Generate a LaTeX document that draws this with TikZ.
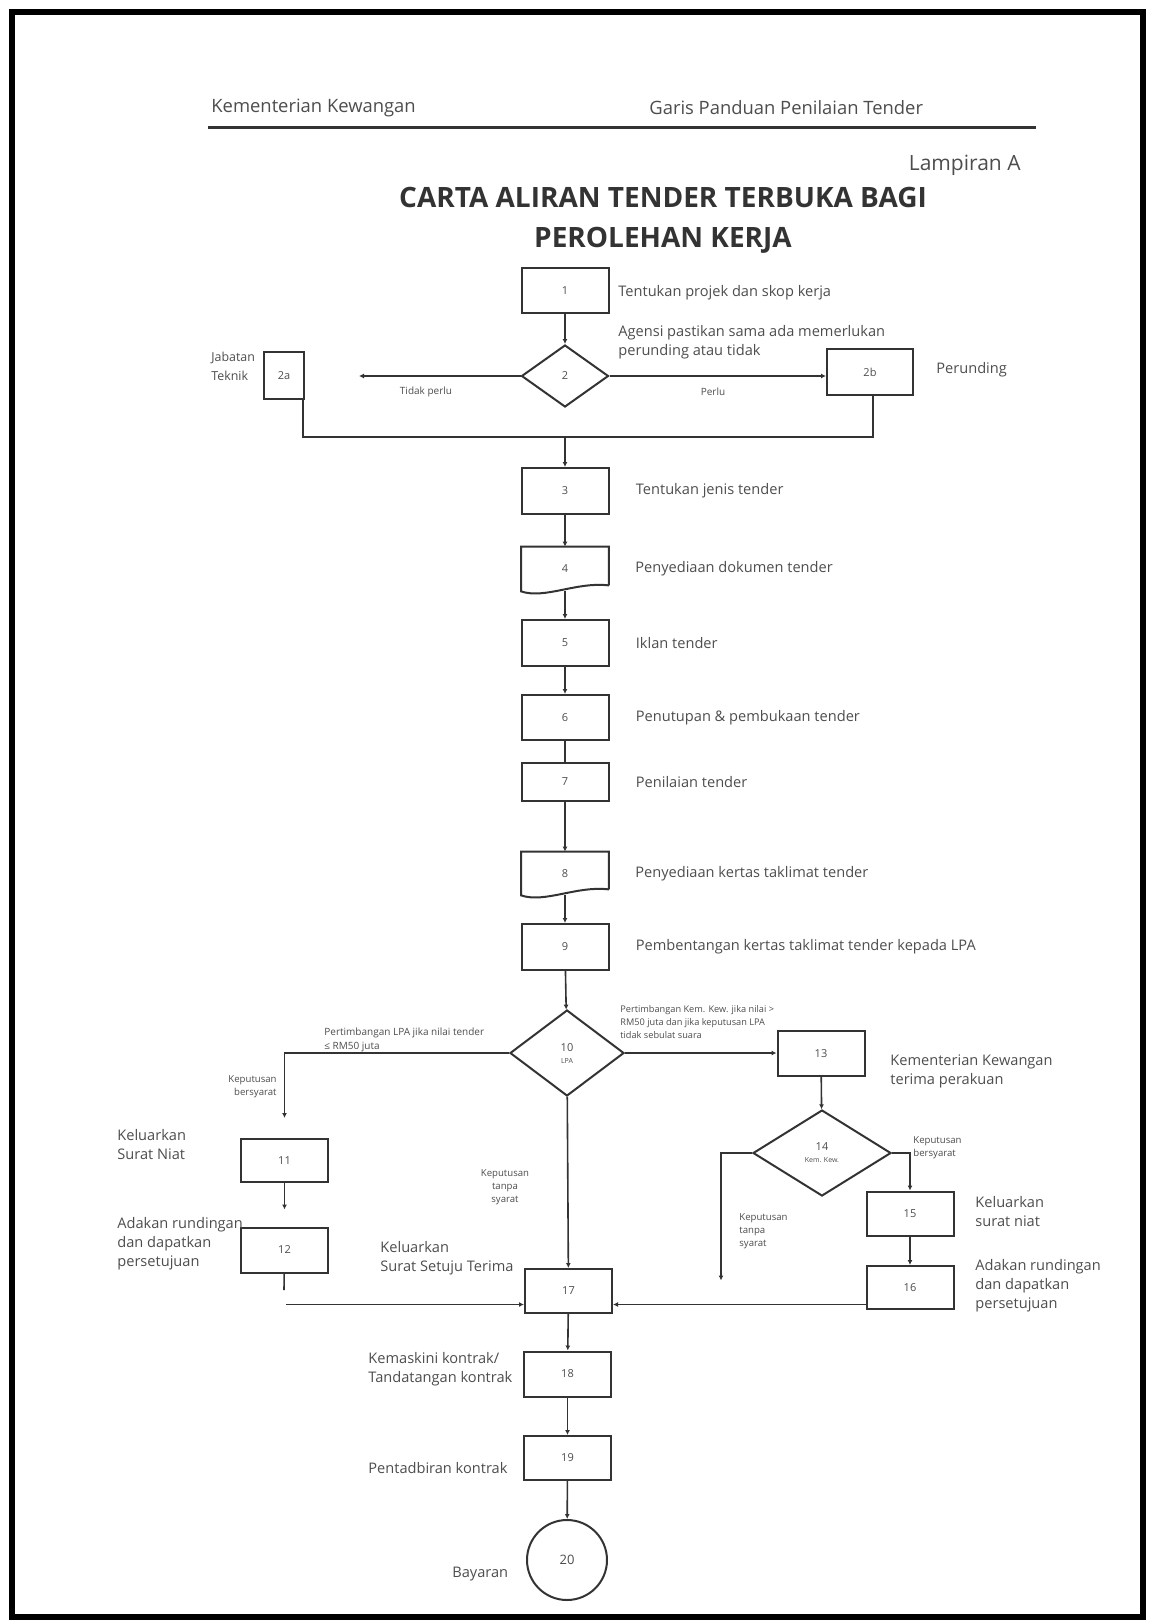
\documentclass[tikz,border=0pt]{standalone}
\usepackage{fontspec}
\setmainfont{Open Sans}
\usepackage{xcolor}
\definecolor{darkgray}{HTML}{333333}
\definecolor{gray}{HTML}{4D4D4D}
\usetikzlibrary{shapes.geometric,positioning,arrows.meta}

% bingkai dokumen dengan bawah beralun
\newcommand{\bingkaidokumen}[1]{%
  \draw[darkgray, line width=1pt] ([yshift=3pt]#1.south east) -- (#1.north east) -- (#1.north west) -- (#1.south west)
    .. controls ([xshift=12pt,yshift=-4pt]#1.south west) and ([xshift=-16pt,yshift=5pt]#1.south east) .. ([yshift=3pt]#1.south east);}

\begin{document}
\begin{tikzpicture}[x=0.5pt, y=-0.5pt, node distance=13pt,
  font=\fontsize{7.3pt}{9.5pt}\selectfont,
  proses/.style={rectangle, draw=darkgray, line width=1pt, minimum width=43.5pt, minimum height=22.5pt,
                 inner sep=0pt, text=gray, font=\fontsize{5.5pt}{6pt}\selectfont},
  dokumen/.style={rectangle, minimum width=43.5pt, minimum height=20.5pt, inner sep=0pt,
                 text=gray, font=\fontsize{5.5pt}{6pt}\selectfont},
  keputusan/.style={diamond, draw=darkgray, line width=1pt, inner sep=0pt, align=center,
                 text=gray, font=\fontsize{5.5pt}{5pt}\selectfont},
  teks/.style={align=left, text=gray, inner sep=0pt, anchor=west},
  nota/.style={align=left, text=gray, inner sep=0pt, font=\fontsize{5pt}{7pt}\selectfont},
  garis/.style={draw=darkgray, line width=0.8pt},
  panah/.style={garis, -{Latex[length=2.5pt,width=2.5pt]}}]

\useasboundingbox (0,0) rectangle (1155,1622);
\draw[line width=3pt] (12,12) rectangle (1143,1617);

% kepala halaman
\node[teks, font=\fontsize{9.2pt}{11pt}\selectfont] (kem) at (211,108) {Kementerian Kewangan};
\node[teks, font=\fontsize{9.2pt}{11pt}\selectfont] (garispanduan) at (649,108) {Garis Panduan Penilaian Tender};
\draw[darkgray, line width=1.5pt] (208,127) -- (1036,127);
\node[teks, anchor=east, font=\fontsize{10.5pt}{12pt}\selectfont] (lampiran) at (1021,165) {Lampiran A};
\node[align=center, text=darkgray, inner sep=0pt, font=\fontsize{14pt}{20pt}\bfseries] (judul) at (663,220)
  {CARTA ALIRAN TENDER TERBUKA BAGI\\PEROLEHAN KERJA};

% nod
\node[proses] (b1) at (565,290.5) {1};
\node[keputusan, minimum width=43.5pt, minimum height=31pt] (d2) at (565,376) {2};
\node[proses, minimum width=20pt, minimum height=23.5pt] (b2a) at (284,375.5) {2a};
\node[proses, minimum width=43pt, minimum height=23pt] (b2b) at (870,372) {2b};
\coordinate (tp) at (359,376);
\coordinate (gabung) at (565,437);
\node[proses, minimum height=23pt] (b3) at (565,491) {3};
\node[dokumen, minimum height=22pt] (b4) at (565,569) {4};
\node[proses, minimum height=23pt] (b5) at (565,643) {5};
\node[proses, minimum height=22.5pt] (b6) at (565,717.5) {6};
\node[proses, minimum height=19pt] (b7) at (565,782) {7};
\node[dokumen, minimum height=21.5pt] (b8) at (565,873.5) {8};
\node[proses, minimum height=23pt] (b9) at (565,947) {9};
\node[keputusan, minimum width=57pt, minimum height=43pt] (d10) at (567,1053) {10\\[1pt]{\fontsize{3.5pt}{4pt}\selectfont LPA}};
\node[proses] (b13) at (821,1053.5) {13};
\node[keputusan, minimum width=69pt, minimum height=43pt] (d14) at (822,1153) {14\\[1pt]{\fontsize{3.5pt}{4pt}\selectfont Kem. Kew.}};
\node[proses, minimum height=22pt] (b15) at (910,1213.5) {15};
\node[proses, minimum height=21.5pt] (b16) at (910,1287.5) {16};
\coordinate (ts) at (721,1280.5);
\node[proses, minimum height=21.5pt] (b11) at (284.5,1160.5) {11};
\node[proses] (b12) at (284.5,1250) {12};
\coordinate (s12) at (284,1290);
\coordinate (h12) at (286,1304.5);
\node[proses, minimum height=22pt] (b17) at (568.5,1291) {17};
\node[proses] (b18) at (567.5,1374) {18};
\node[proses, minimum height=22pt] (b19) at (567.5,1458) {19};
\node[circle, draw=darkgray, line width=1pt, minimum size=40pt, inner sep=0pt, text=gray,
      font=\fontsize{6.5pt}{7pt}\selectfont] (c20) at (567,1560) {20};

\bingkaidokumen{b4}
\bingkaidokumen{b8}

% keterangan
\node[teks] (t1) at (618,293) {Tentukan projek dan skop kerja};
\node[teks] (t2) at (618,342) {Agensi pastikan sama ada memerlukan\\perunding atau tidak};
\node[teks, font=\fontsize{6.2pt}{9.5pt}\selectfont] (t2a) at (211,366) {Jabatan\\Teknik};
\node[teks] (t2b) at (936,370) {Perunding};
\node[nota] (tidakperlu) at (426,392) {Tidak perlu};
\node[nota] (perlu) at (713,392) {Perlu};
\node[teks, right=13pt of b3] (t3) {Tentukan jenis tender};
\node[teks, right=13pt of b4] (t4) {Penyediaan dokumen tender};
\node[teks, right=13pt of b5] (t5) {Iklan tender};
\node[teks, right=13pt of b6] (t6) {Penutupan \& pembukaan tender};
\node[teks, right=13pt of b7] (t7) {Penilaian tender};
\node[teks, right=13pt of b8] (t8) {Penyediaan kertas taklimat tender};
\node[teks, right=13pt of b9] (t9) {Pembentangan kertas taklimat tender kepada LPA};
\node[nota, anchor=west] (lpa) at (324,1040) {Pertimbangan LPA jika nilai tender\\≤ RM50 juta};
\node[nota, anchor=west, font=\fontsize{4.6pt}{6.5pt}\selectfont] (kemkew) at (620,1022)
  {Pertimbangan Kem. Kew. jika nilai >\\RM50 juta dan jika keputusan LPA\\tidak sebulat suara};
\node[nota, anchor=east, align=right, font=\fontsize{4.8pt}{6.5pt}\selectfont] (bersyarat1) at (277,1087) {Keputusan\\bersyarat};
\node[teks] (t13) at (890,1071.5) {Kementerian Kewangan\\terima perakuan};
\node[nota, anchor=west, font=\fontsize{4.8pt}{6.5pt}\selectfont] (bersyarat2) at (913,1148) {Keputusan\\bersyarat};
\node[nota, anchor=west, font=\fontsize{4.8pt}{6.5pt}\selectfont] (tanpa2) at (739,1231) {Keputusan\\tanpa\\syarat};
\node[teks] (t15) at (975,1211.5) {Keluarkan\\surat niat};
\node[teks] (t16) at (975,1286) {Adakan rundingan\\dan dapatkan\\persetujuan};
\node[teks] (t11) at (117,1145) {Keluarkan\\Surat Niat};
\node[teks] (t12) at (117,1243.5) {Adakan rundingan\\dan dapatkan\\persetujuan};
\node[nota, align=center, font=\fontsize{4.8pt}{6.5pt}\selectfont] (tanpa1) at (505,1187) {Keputusan\\tanpa\\syarat};
\node[teks] (t17) at (380,1258.5) {Keluarkan\\Surat Setuju Terima};
\node[teks] (t18) at (368,1369) {Kemaskini kontrak/\\Tandatangan kontrak};
\node[teks] (t19) at (368,1468) {Pentadbiran kontrak};
\node[teks] (t20) at (452,1574) {Bayaran};

% penghubung
\draw[panah] (b1) -- (d2);
\draw[panah] (d2.west) -- (tp);
\draw[panah] (d2.east) -- (d2.east -| b2b.west);
\draw[garis] ([xshift=-1pt]b2a.south east) |- (gabung) -| ([xshift=1.5pt]b2b.south);
\draw[panah] (gabung) -- (b3);
\draw[panah] (b3) -- (b4);
\draw[panah] (b4) -- (b5);
\draw[panah] (b5) -- (b6);
\draw[garis] (b6) -- (b7);
\draw[panah] (b7) -- (b8);
\draw[panah] (b8) -- (b9);
\draw[panah] (b9) -- (d10);
\draw[panah, shorten >=10pt] (d10.west) -| (b11.north);
\draw[panah, shorten >=8.5pt] (b11) -- (b12);
\draw[garis] (b12) -- (s12);
\draw[panah] (h12) -- (h12 -| b17.west);
\draw[panah] (d10) -- (b17);
\draw[panah] (d10.east) -- (d10.east -| b13.west);
\draw[panah] (b13) -- (d14);
\draw[panah] (d14.east) -| (b15.north);
\draw[panah] (d14.west) -| (ts);
\draw[panah] (b15) -- (b16);
\draw[panah] ([yshift=-8.5pt]b16.west) -- ([yshift=-8.5pt]b16.west -| b17.east);
\draw[panah] (b17) -- (b18);
\draw[panah] (b18) -- (b19);
\draw[panah] (b19) -- (c20);
\end{tikzpicture}
\end{document}
